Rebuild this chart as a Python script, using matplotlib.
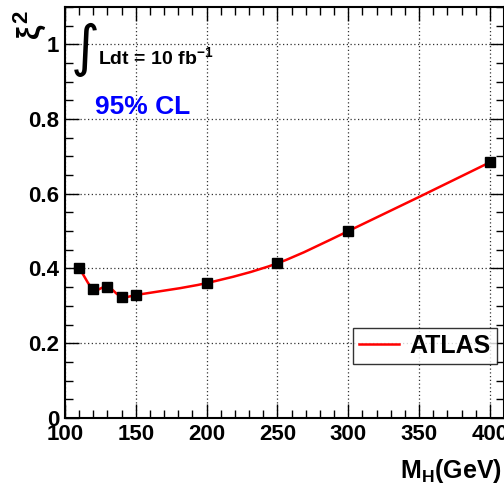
import matplotlib
matplotlib.use("Agg")
import matplotlib.pyplot as plt
import numpy as np
from matplotlib.path import Path
from matplotlib.patches import PathPatch
from matplotlib.ticker import MultipleLocator

FAM = ['Liberation Sans', 'DejaVu Sans']
plt.rcParams['font.family'] = FAM
plt.rcParams['mathtext.fontset'] = 'custom'
plt.rcParams['mathtext.rm'] = 'Liberation Sans:bold'
plt.rcParams['mathtext.it'] = 'Liberation Sans:bold'
plt.rcParams['mathtext.bf'] = 'Liberation Sans:bold'

mass = [110, 120, 130, 140, 150, 200, 250, 300, 400]
xi2 = [0.401, 0.345, 0.351, 0.324, 0.329, 0.361, 0.414, 0.500, 0.684]
series_label = "ATLAS"

fig = plt.figure(figsize=(5.04, 4.90), dpi=100)
ax = fig.add_axes([0.129, 0.147, 0.871, 0.839])
ax.set_xlim(100, 410)
ax.set_ylim(0, 1.1)

# smooth curve (Catmull-Rom style Bezier through the points)
x = np.array(mass, float); y = np.array(xi2, float)
verts = [(x[0], y[0])]; codes = [Path.MOVETO]
for i in range(len(x) - 1):
    p0 = np.array([x[max(i-1, 0)], y[max(i-1, 0)]])
    p1 = np.array([x[i], y[i]]); p2 = np.array([x[i+1], y[i+1]])
    p3 = np.array([x[min(i+2, len(x)-1)], y[min(i+2, len(x)-1)]])
    h = p2[0] - p1[0]
    m1 = (p2 - p0) / (p2[0] - p0[0]) * h / 3
    m2 = (p3 - p1) / (p3[0] - p1[0]) * h / 3
    verts += [tuple(p1 + m1), tuple(p2 - m2), tuple(p2)]
    codes += [Path.CURVE4] * 3
ax.add_patch(PathPatch(Path(verts, codes), facecolor='none', edgecolor='#ff0000', lw=1.8, zorder=3))
ax.plot(mass, xi2, ls='none', marker='s', ms=6.5, color='black', zorder=4)
ax.plot([], [], color='#ff0000', lw=1.8, label=series_label)

ax.xaxis.set_major_locator(MultipleLocator(50))
ax.xaxis.set_minor_locator(MultipleLocator(10))
ax.yaxis.set_minor_locator(MultipleLocator(0.05))
ax.tick_params(which='both', direction='in', top=True, right=True, width=1)
ax.tick_params(which='major', length=10, labelsize=16, pad=4)
ax.tick_params(which='minor', length=6)
ax.set_yticks([0, 0.2, 0.4, 0.6, 0.8, 1.0])
ax.set_yticklabels(['0', '0.2', '0.4', '0.6', '0.8', '1'])
for lab in ax.get_xticklabels() + ax.get_yticklabels():
    lab.set_fontweight('bold')
ax.grid(True, which='major', color='#333333', ls=(0, (1, 2)), lw=0.9)
for s in ax.spines.values():
    s.set_linewidth(1.5)

fig.text(0.995, 0.01, r'M$_\mathregular{H}$(GeV)', ha='right', va='bottom', fontsize=18, fontweight='bold')
fig.text(0.058, 0.948, r'$\xi^{2}$', rotation=90, ha='center', va='center', fontsize=23)

ax.text(0.046, 0.895, '\u222b', transform=ax.transAxes, fontsize=40, fontweight='normal',
        family='DejaVu Sans', ha='center', va='center')
ax.text(0.075, 0.878, r'Ldt = 10 fb$^{-1}$', transform=ax.transAxes, fontsize=14, fontweight='bold', ha='left', va='center')
ax.text(0.068, 0.757, '95% CL', transform=ax.transAxes, fontsize=19, fontweight='bold', color='#0000ff', ha='left', va='center')

leg = ax.legend(loc='lower right', bbox_to_anchor=(0.984, 0.131), fontsize=18, frameon=True, fancybox=False,
                edgecolor='black', handlelength=1.6, borderpad=0.25, handletextpad=0.4, borderaxespad=0)
for t in leg.get_texts():
    t.set_fontweight('bold')
leg.get_frame().set_linewidth(1.0)

fig.savefig('out.png', dpi=100)
